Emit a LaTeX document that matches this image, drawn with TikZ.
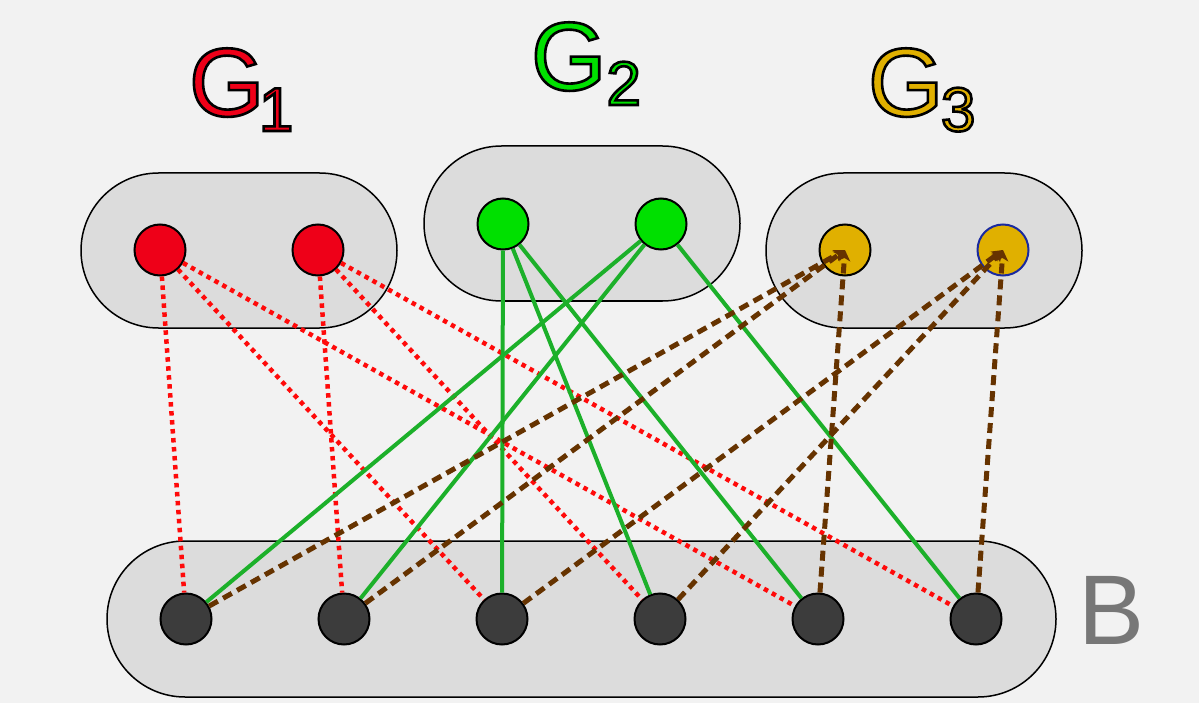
\documentclass[tikz,border=0pt]{standalone}
\usepackage{fontspec}
\setmainfont{Liberation Sans}
\usetikzlibrary{arrows.meta}

\definecolor{bgcol}{HTML}{F2F2F2}
\definecolor{pillcol}{HTML}{DCDCDC}
\definecolor{gonered}{HTML}{EE0018}
\definecolor{gtwogreen}{HTML}{00E000}
\definecolor{gthreegold}{HTML}{E0B000}
\definecolor{bdark}{HTML}{3C3C3C}
\definecolor{edgegreen}{HTML}{1CB02A}
\definecolor{edgered}{HTML}{FF0A0A}
\definecolor{edgebrown}{HTML}{663300}
\definecolor{rimblue}{HTML}{1A2AA0}
\definecolor{labelgray}{HTML}{777777}

\tikzset{
  pill/.style={draw=black, line width=1.5pt, fill=pillcol},
  vertex/.style={circle, draw=black, line width=2pt, minimum size=51pt, inner sep=0pt},
  lbl/.style={anchor=base west, inner sep=0pt, outer sep=0pt},
  rededge/.style={draw=edgered, line width=4.5pt, dash pattern=on 4.5pt off 4.5pt},
  greenedge/.style={draw=edgegreen, line width=4pt},
  brownedge/.style={draw=edgebrown, line width=5pt, dash pattern=on 10pt off 6pt,
    -{Stealth[length=11pt,width=12pt,inset=3pt]}},
}

% glyphs filled with the current colour and stroked with a black rim
\newcommand{\rimmed}[1]{%
  \special{pdf:literal direct 0 0 0 RG 2.6 w 2 Tr}#1\special{pdf:literal direct 0 Tr}}
% title: a large G with a lowered index
\newcommand{\gtitle}[2]{%
  \rimmed{G}\kern#1\raisebox{-15pt}{\fontsize{62}{62}\selectfont\rimmed{#2}}}

\begin{document}
\begin{tikzpicture}[x=1pt, y=-1pt]
  \fill[bgcol] (0,0) rectangle (1199,703);
  \useasboundingbox (0,0) rectangle (1199,703);

  % group containers
  \draw[pill, rounded corners=77.5pt] (81,173) rectangle (397,328);
  \draw[pill, rounded corners=77.5pt] (424,146) rectangle (740,301);
  \draw[pill, rounded corners=77.5pt] (766,173) rectangle (1082,328);
  \draw[pill, rounded corners=78pt] (107,541) rectangle (1056,697);

  % vertices
  \node[vertex, fill=gonered] (a1) at (160,250) {};
  \node[vertex, fill=gonered] (a2) at (318,250) {};
  \node[vertex, fill=gtwogreen] (m1) at (503,224) {};
  \node[vertex, fill=gtwogreen] (m2) at (661,224) {};
  \node[vertex, fill=gthreegold] (c1) at (845,250) {};
  \node[vertex, fill=gthreegold, draw=rimblue] (c2) at (1003,250) {};
  \foreach \i/\x in {1/186,2/344,3/502,4/660,5/818,6/976}
    \node[vertex, fill=bdark] (b\i) at (\x,619) {};

  % G1 edges
  \draw[rededge] (a1) -- (b1);
  \draw[rededge] (a1) -- (b3);
  \draw[rededge] (a1) -- (b5);
  \draw[rededge] (a2) -- (b2);
  \draw[rededge] (a2) -- (b4);
  \draw[rededge] (a2) -- (b6);

  % G2 edges
  \draw[greenedge] (m1) -- (b3);
  \draw[greenedge] (m1) -- (b4);
  \draw[greenedge] (m1) -- (b5);
  \draw[greenedge] (m2) -- (b1);
  \draw[greenedge] (m2) -- (b2);
  \draw[greenedge] (m2) -- (b6);

  % G3 edges
  \draw[brownedge] (b1) -- (c1.center);
  \draw[brownedge] (b2) -- (c1.center);
  \draw[brownedge] (b5) -- (c1.center);
  \draw[brownedge] (b3) -- (c2.center);
  \draw[brownedge] (b4) -- (c2.center);
  \draw[brownedge] (b6) -- (c2.center);

  % group titles
  \node[lbl, font=\fontsize{97}{97}\selectfont, text=gonered] (gone) at (189,116) {\gtitle{-5.5pt}{1}};
  \node[lbl, font=\fontsize{97}{97}\selectfont, text=gtwogreen] (gtwo) at (531,90) {\gtitle{0pt}{2}};
  \node[lbl, font=\fontsize{97}{97}\selectfont, text=gthreegold] (gthree) at (868,116) {\gtitle{-2.5pt}{3}};
  \node[lbl, font=\fontsize{99}{99}\selectfont, text=labelgray] (btitle) at (1078,644) {B};
\end{tikzpicture}
\end{document}
